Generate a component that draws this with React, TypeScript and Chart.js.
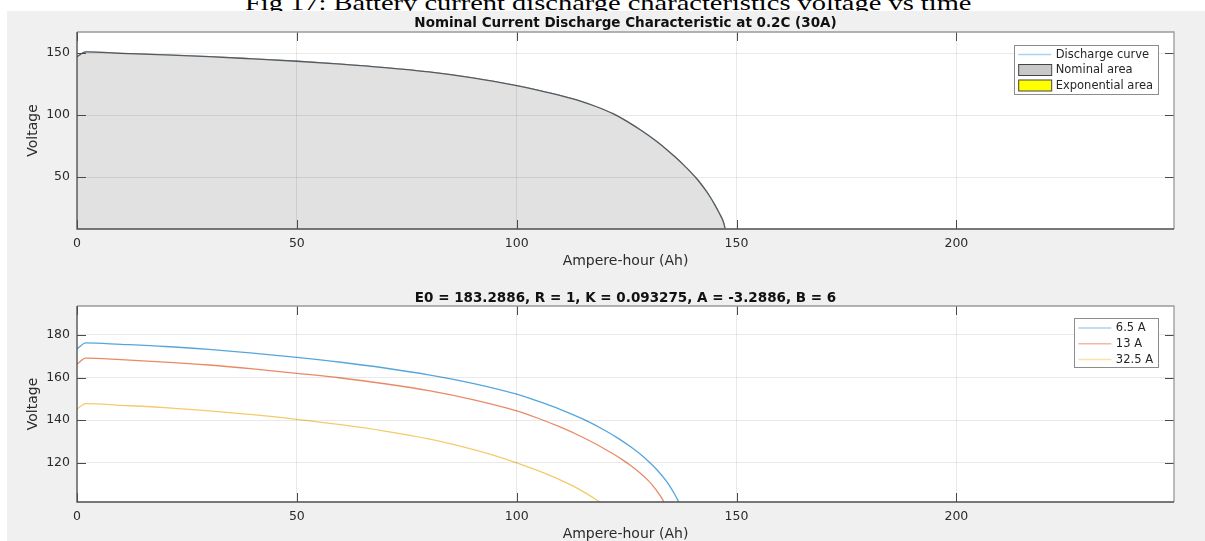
import React, { useEffect, useRef } from 'react';
import { Chart, registerables } from 'chart.js';

Chart.register(...registerables);
Chart.defaults.font.family = "'DejaVu Sans', sans-serif";

const FONT = "'DejaVu Sans', sans-serif";

const CAPTION = 'Fig 17: Battery current discharge characteristics voltage vs time';
const TOP_TITLE = 'Nominal Current Discharge Characteristic at 0.2C (30A)';
const BOTTOM_TITLE = 'E0 = 183.2886, R = 1, K = 0.093275, A = -3.2886, B = 6';
const X_LABEL = 'Ampere-hour (Ah)';
const Y_LABEL = 'Voltage';

const xTicks = [0, 50, 100, 150, 200];
const topYTicks = [50, 100, 150];
const bottomYTicks = [120, 140, 160, 180];

// Top plot: nominal discharge at 30 A
const dischargeAh = [0, 2, 10, 20, 30, 40, 50, 60, 70, 80, 90, 100, 105, 110, 115, 118, 120, 122, 124, 126, 128, 130, 132, 134, 136, 138, 140, 141, 142, 143, 144, 145, 146, 147, 147.4];
const dischargeV = [147, 151, 149.8, 148.6, 147.1, 145.3, 143.4, 141.1, 138.3, 134.8, 130, 123.7, 119.9, 115.6, 110.6, 106.9, 104.1, 100.9, 97.1, 92.9, 88.4, 83.5, 78.2, 72.5, 66.3, 59.6, 52.4, 48.4, 44.0, 39.2, 33.9, 28.0, 21.4, 14.0, 8.6];

// Bottom plot: 6.5 A
const ah65 = [0, 2, 10, 20, 30, 40, 50, 60, 70, 80, 90, 100, 105, 110, 115, 120, 123, 126, 128, 130, 132, 134, 135, 136, 137];
const v65 = [173.4, 176.3, 175.6, 174.6, 173.2, 171.5, 169.5, 167.2, 164.5, 161.3, 157.3, 152.2, 148.8, 145.0, 140.6, 135.3, 131.6, 127.4, 124.2, 120.6, 116.5, 111.5, 108.5, 105.0, 101.0];

// Bottom plot: 13 A
const ah13 = [0, 2, 10, 20, 30, 40, 50, 60, 70, 80, 90, 100, 105, 110, 115, 118, 120, 122, 124, 126, 128, 130, 131, 132, 133, 133.6];
const v13 = [166.3, 169.1, 168.4, 167.3, 165.9, 164.1, 162.0, 159.8, 157.1, 153.9, 149.7, 144.4, 140.8, 136.7, 132.0, 128.8, 126.5, 124.1, 121.5, 118.6, 115.3, 111.5, 109.2, 106.5, 103.4, 101.2];

// Bottom plot: 32.5 A
const ah325 = [0, 2, 10, 20, 30, 40, 50, 60, 70, 80, 90, 95, 100, 105, 110, 113, 116, 118, 119.2];
const v325 = [145.2, 147.8, 147, 145.9, 144.4, 142.6, 140.4, 137.9, 134.9, 131.2, 126.3, 123.4, 120.0, 116.2, 111.9, 108.9, 105.4, 102.8, 101.1];

const toPoints = (xs: number[], ys: number[]) => xs.map((x, i) => ({ x, y: ys[i] }));

type LegendItem = { label: string; kind: 'line' | 'patch'; color: string; border?: string };

const matlabPlugin = {
  id: 'matlabBox',
  beforeDraw(chart: any) {
    const { ctx, chartArea: a } = chart;
    ctx.save();
    ctx.fillStyle = '#ffffff';
    ctx.fillRect(a.left, a.top, a.right - a.left, a.bottom - a.top);
    ctx.restore();
  },
  afterDraw(chart: any, _args: any, opts: any) {
    const { ctx, chartArea: a, scales } = chart;
    const xs = scales.x;
    const ys = scales.y;
    ctx.save();
    // inward tick marks
    ctx.strokeStyle = '#4a4a4a';
    ctx.lineWidth = 1;
    ctx.beginPath();
    xs.ticks.forEach((t: any) => {
      const p = Math.round(xs.getPixelForValue(t.value)) + 0.5;
      ctx.moveTo(p, a.bottom);
      ctx.lineTo(p, a.bottom - 9);
      ctx.moveTo(p, a.top);
      ctx.lineTo(p, a.top + 9);
    });
    ys.ticks.forEach((t: any) => {
      const p = Math.round(ys.getPixelForValue(t.value)) + 0.5;
      ctx.moveTo(a.left, p);
      ctx.lineTo(a.left + 9, p);
      ctx.moveTo(a.right, p);
      ctx.lineTo(a.right - 9, p);
    });
    ctx.stroke();
    // box: top/right lighter, left/bottom darker
    ctx.lineWidth = 1.3;
    ctx.strokeStyle = '#9a9a9a';
    ctx.beginPath();
    ctx.moveTo(a.left, a.top);
    ctx.lineTo(a.right, a.top);
    ctx.lineTo(a.right, a.bottom);
    ctx.stroke();
    ctx.strokeStyle = '#4d4d4d';
    ctx.beginPath();
    ctx.moveTo(a.left, a.top);
    ctx.lineTo(a.left, a.bottom);
    ctx.lineTo(a.right, a.bottom);
    ctx.stroke();

    // legend
    const items: LegendItem[] = opts.items || [];
    if (items.length) {
      ctx.font = `11.5px ${FONT}`;
      const tw = Math.max(...items.map((i) => ctx.measureText(i.label).width));
      const w = 4 + 33 + 4.5 + tw + 5;
      const h = opts.rowTop + (items.length - 1) * opts.rowGap + opts.rowBottom;
      const left = a.right - opts.right - w;
      const top = a.top + opts.top;
      ctx.fillStyle = '#ffffff';
      ctx.fillRect(left, top, w, h);
      ctx.strokeStyle = '#8c8c8c';
      ctx.lineWidth = 1;
      ctx.strokeRect(Math.round(left) + 0.5, Math.round(top) + 0.5, Math.round(w), Math.round(h));
      items.forEach((it, i) => {
        const cy = top + opts.rowTop + i * opts.rowGap;
        if (it.kind === 'line') {
          ctx.strokeStyle = it.color;
          ctx.lineWidth = 1.5;
          ctx.beginPath();
          ctx.moveTo(left + 4, cy);
          ctx.lineTo(left + 37, cy);
          ctx.stroke();
        } else {
          ctx.fillStyle = it.color;
          ctx.fillRect(left + 4, cy - 5.5, 33, 11);
          ctx.strokeStyle = it.border || '#3c3c3c';
          ctx.lineWidth = 1;
          ctx.strokeRect(left + 4.5, cy - 5.5, 33, 11);
        }
        ctx.fillStyle = '#262626';
        ctx.textBaseline = 'middle';
        ctx.textAlign = 'left';
        ctx.fillText(it.label, left + 41.5, cy + 0.5);
      });
    }
    ctx.restore();
  },
};

type PlotProps = {
  top: number;
  height: number;
  title: string;
  titlePadTop: number;
  titlePadBottom: number;
  xAxisH: number;
  xTitlePadBottom: number;
  datasets: any[];
  yMin: number;
  yMax: number;
  yTicks: number[];
  legend: any;
};

function Plot(p: PlotProps) {
  const ref = useRef<HTMLCanvasElement>(null);
  useEffect(() => {
    const grid = { color: 'rgba(0,0,0,0.085)', drawTicks: false, z: 1, lineWidth: 1 };
    const chart = new Chart(ref.current as HTMLCanvasElement, {
      type: 'line',
      data: { datasets: p.datasets },
      plugins: [matlabPlugin as any],
      options: {
        animation: false,
        responsive: false,
        maintainAspectRatio: false,
        layout: { padding: { left: 0, right: 31, top: 0, bottom: 0 } },
        elements: { point: { radius: 0 } },
        scales: {
          x: {
            type: 'linear',
            min: 0,
            max: 249.5,
            afterBuildTicks: (s: any) => {
              s.ticks = xTicks.map((v) => ({ value: v }));
            },
            afterFit: (s: any) => {
              s.height = p.xAxisH;
            },
            grid,
            border: { display: false },
            ticks: { padding: 7, color: '#2b2b2b', font: { size: 12.5 }, maxRotation: 0, autoSkip: false },
            title: {
              display: true,
              text: X_LABEL,
              color: '#2b2b2b',
              font: { size: 14 },
              padding: { top: 0, bottom: p.xTitlePadBottom },
            },
          },
          y: {
            type: 'linear',
            min: p.yMin,
            max: p.yMax,
            afterBuildTicks: (s: any) => {
              s.ticks = p.yTicks.map((v) => ({ value: v }));
            },
            afterFit: (s: any) => {
              s.width = 70;
            },
            grid,
            border: { display: false },
            ticks: { padding: 7, color: '#2b2b2b', font: { size: 12.5 } },
            title: {
              display: true,
              text: Y_LABEL,
              color: '#2b2b2b',
              font: { size: 14 },
              padding: { top: 18, bottom: 0 },
            },
          },
        },
        plugins: {
          legend: { display: false },
          tooltip: { enabled: false },
          title: {
            display: true,
            text: p.title,
            fullSize: false,
            color: '#111111',
            font: { size: 13.5, weight: 'bold', lineHeight: 1 },
            padding: { top: p.titlePadTop, bottom: p.titlePadBottom },
          },
          matlabBox: p.legend,
        } as any,
      } as any,
    });
    return () => chart.destroy();
  }, []);
  return (
    <canvas
      ref={ref}
      width={1198}
      height={p.height}
      style={{ position: 'absolute', left: 0, top: p.top, width: 1198, height: p.height }}
    />
  );
}

export default function App() {
  const topDatasets = [
    {
      label: 'Discharge curve',
      data: toPoints(dischargeAh, dischargeV),
      borderColor: '#6fb0e0',
      borderWidth: 1.3,
      pointRadius: 0,
      fill: false,
      cubicInterpolationMode: 'monotone',
      order: 3,
    },
    {
      label: 'Nominal area',
      data: toPoints(dischargeAh, dischargeV),
      borderColor: '#5a5a5a',
      backgroundColor: '#e1e1e1',
      borderWidth: 1.3,
      pointRadius: 0,
      fill: 'start',
      cubicInterpolationMode: 'monotone',
      order: 2,
    },
    {
      label: 'Exponential area',
      data: [],
      borderColor: '#5a5a5a',
      backgroundColor: '#ffff00',
      pointRadius: 0,
      fill: false,
      order: 1,
    },
  ];
  const bottomDatasets = [
    { label: '6.5 A', data: toPoints(ah65, v65), borderColor: '#56a6dc', borderWidth: 1.3, pointRadius: 0, fill: false, cubicInterpolationMode: 'monotone' },
    { label: '13 A', data: toPoints(ah13, v13), borderColor: '#e98a66', borderWidth: 1.3, pointRadius: 0, fill: false, cubicInterpolationMode: 'monotone' },
    { label: '32.5 A', data: toPoints(ah325, v325), borderColor: '#f3cb6a', borderWidth: 1.3, pointRadius: 0, fill: false, cubicInterpolationMode: 'monotone' },
  ];
  const topLegend = {
    items: [
      { label: 'Discharge curve', kind: 'line', color: '#a9d2ee' },
      { label: 'Nominal area', kind: 'patch', color: '#c8c8c8', border: '#444444' },
      { label: 'Exponential area', kind: 'patch', color: '#ffff00', border: '#444444' },
    ],
    top: 13,
    right: 16,
    rowTop: 9.5,
    rowGap: 15.5,
    rowBottom: 8,
  };
  const bottomLegend = {
    items: [
      { label: '6.5 A', kind: 'line', color: '#a9d2ee' },
      { label: '13 A', kind: 'line', color: '#f3b89f' },
      { label: '32.5 A', kind: 'line', color: '#fbe2a8' },
    ],
    top: 12,
    right: 16,
    rowTop: 10,
    rowGap: 15.7,
    rowBottom: 8,
  };
  return (
    <div
      style={{
        position: 'absolute',
        left: 0,
        top: 0,
        width: 1205,
        height: 541,
        overflow: 'hidden',
        background: '#ffffff',
      }}
    >
      <div
        style={{
          position: 'absolute',
          left: 245,
          top: -6.6,
          fontFamily: "'Liberation Serif', serif",
          fontSize: 21,
          lineHeight: '21px',
          color: '#000',
          whiteSpace: 'nowrap',
          transform: 'scaleX(1.355)',
          transformOrigin: 'left top',
        }}
      >
        {CAPTION}
      </div>
      <div
        style={{
          position: 'absolute',
          left: 7,
          top: 11,
          width: 1198,
          height: 530,
          background: '#f0f0f0',
          overflow: 'hidden',
        }}
      >
        <Plot
          top={0}
          height={270}
          title={TOP_TITLE}
          titlePadTop={5.5}
          titlePadBottom={2}
          xAxisH={52}
          xTitlePadBottom={11}
          datasets={topDatasets}
          yMin={8.1}
          yMax={167}
          yTicks={topYTicks}
          legend={topLegend}
        />
        <Plot
          top={270}
          height={266}
          title={BOTTOM_TITLE}
          titlePadTop={10.7}
          titlePadBottom={0.8}
          xAxisH={45}
          xTitlePadBottom={4.6}
          datasets={bottomDatasets}
          yMin={101.6}
          yMax={193.6}
          yTicks={bottomYTicks}
          legend={bottomLegend}
        />
      </div>
    </div>
  );
}
